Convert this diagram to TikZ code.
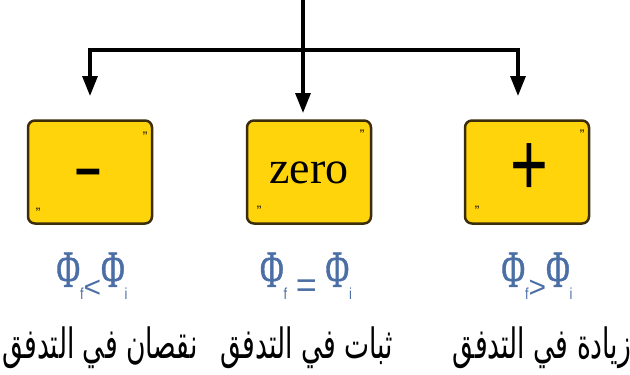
\documentclass[tikz,border=0pt]{standalone}
\usepackage{fontspec}
\usetikzlibrary{arrows.meta}
\setmainfont{Liberation Serif}
\newfontfamily\arabicfont[Script=Arabic]{DejaVu Sans}
\newfontfamily\sansf{Liberation Sans}
\newfontfamily\phifont[FakeBold=1.2]{Liberation Serif}
\TeXXeTstate=1
\definecolor{boxyellow}{RGB}{255,212,10}
\definecolor{boxedge}{RGB}{60,45,10}
\definecolor{phiblue}{RGB}{75,110,165}
\newcommand\bigphi{\scalebox{0.62}[1]{\phifont Φ}}
\newcommand\psub[1]{\raisebox{-0.24em}{\sansf\fontsize{16}{16}\selectfont\scalebox{0.8}[1]{#1}}}
\newcommand\prel[2]{\raisebox{-0.2em}{\sansf\fontsize{#1}{#1}\selectfont #2}}
\tikzset{
  flow/.style={draw=black,line width=3.2pt},
  flowarrow/.style={flow,-{Triangle[length=20pt,width=15pt]}},
  signbox/.style={draw=boxedge,fill=boxyellow,line width=2.5pt,rounded corners=7pt,
    minimum width=124pt,minimum height=103pt,inner sep=0pt},
  quote/.style={inner sep=0pt,font=\sansf\bfseries\fontsize{11}{11}\selectfont,text=boxedge},
  phitext/.style={inner sep=0pt,text=phiblue,font=\fontsize{52}{52}\selectfont},
  artext/.style={inner sep=0pt,font=\arabicfont\fontsize{38}{40}\selectfont}
}
\begin{document}
\begin{tikzpicture}[x=1pt,y=-1pt]
\useasboundingbox (0,0) rectangle (630,375);
% boxes
\node[signbox] (bl) at (90,172) {};
\node[signbox] (bc) at (309,172) {};
\node[signbox] (br) at (527,172) {};
% symbols
\node[inner sep=0pt,font=\sansf\bfseries\fontsize{64}{64}\selectfont] (sl) at (88,177) {\scalebox{1.4}[0.75]{-}};
\node[inner sep=0pt,font=\fontsize{46}{46}\selectfont] (sc) at (309,173) {zero};
\node[inner sep=0pt,font=\sansf\fontsize{60}{60}\selectfont] (sr) at (529,170) {\scalebox{1.08}[1.5]{+}};
% quote marks
\node[quote] (ql1) at (145,136) {”};
\node[quote] (ql2) at (38,210) {„};
\node[quote] (qc1) at (362,134) {”};
\node[quote] (qc2) at (259,208) {„};
\node[quote] (qr1) at (582,134) {”};
\node[quote] (qr2) at (477,208) {„};
% connectors
\coordinate (top) at (303,0);
\coordinate (jl) at (90,50);
\coordinate (jr) at (518,50);
\coordinate (tl) at (90,96);
\coordinate (tc) at (303,113);
\coordinate (tr) at (518,96);
\draw[flowarrow] (top) -- (tc);
\draw[flow,line cap=rect] (jl) -- (jr);
\draw[flowarrow] (jl) -- (tl);
\draw[flowarrow] (jr) -- (tr);
% formulas
\node[phitext] (pl) at (92,276) {\bigphi\psub{f}\prel{30}{<}\bigphi\psub{i}};
\node[phitext] (pc) at (306,276) {\bigphi\psub{f}\,\prel{36}{=}\,\bigphi\psub{i}};
\node[phitext] (pr) at (537,276) {\bigphi\psub{f}\prel{30}{>}\bigphi\psub{i}};
% arabic labels
\node[artext] (al) at (100,348) {\scalebox{0.7}[1.1]{\beginR نقصان في التدفق\endR}};
\node[artext] (ac) at (307,348) {\scalebox{0.7}[1.1]{\beginR ثبات في التدفق\endR}};
\node[artext] (ar) at (542,348) {\scalebox{0.7}[1.1]{\beginR زيادة في التدفق\endR}};
\end{tikzpicture}
\end{document}
